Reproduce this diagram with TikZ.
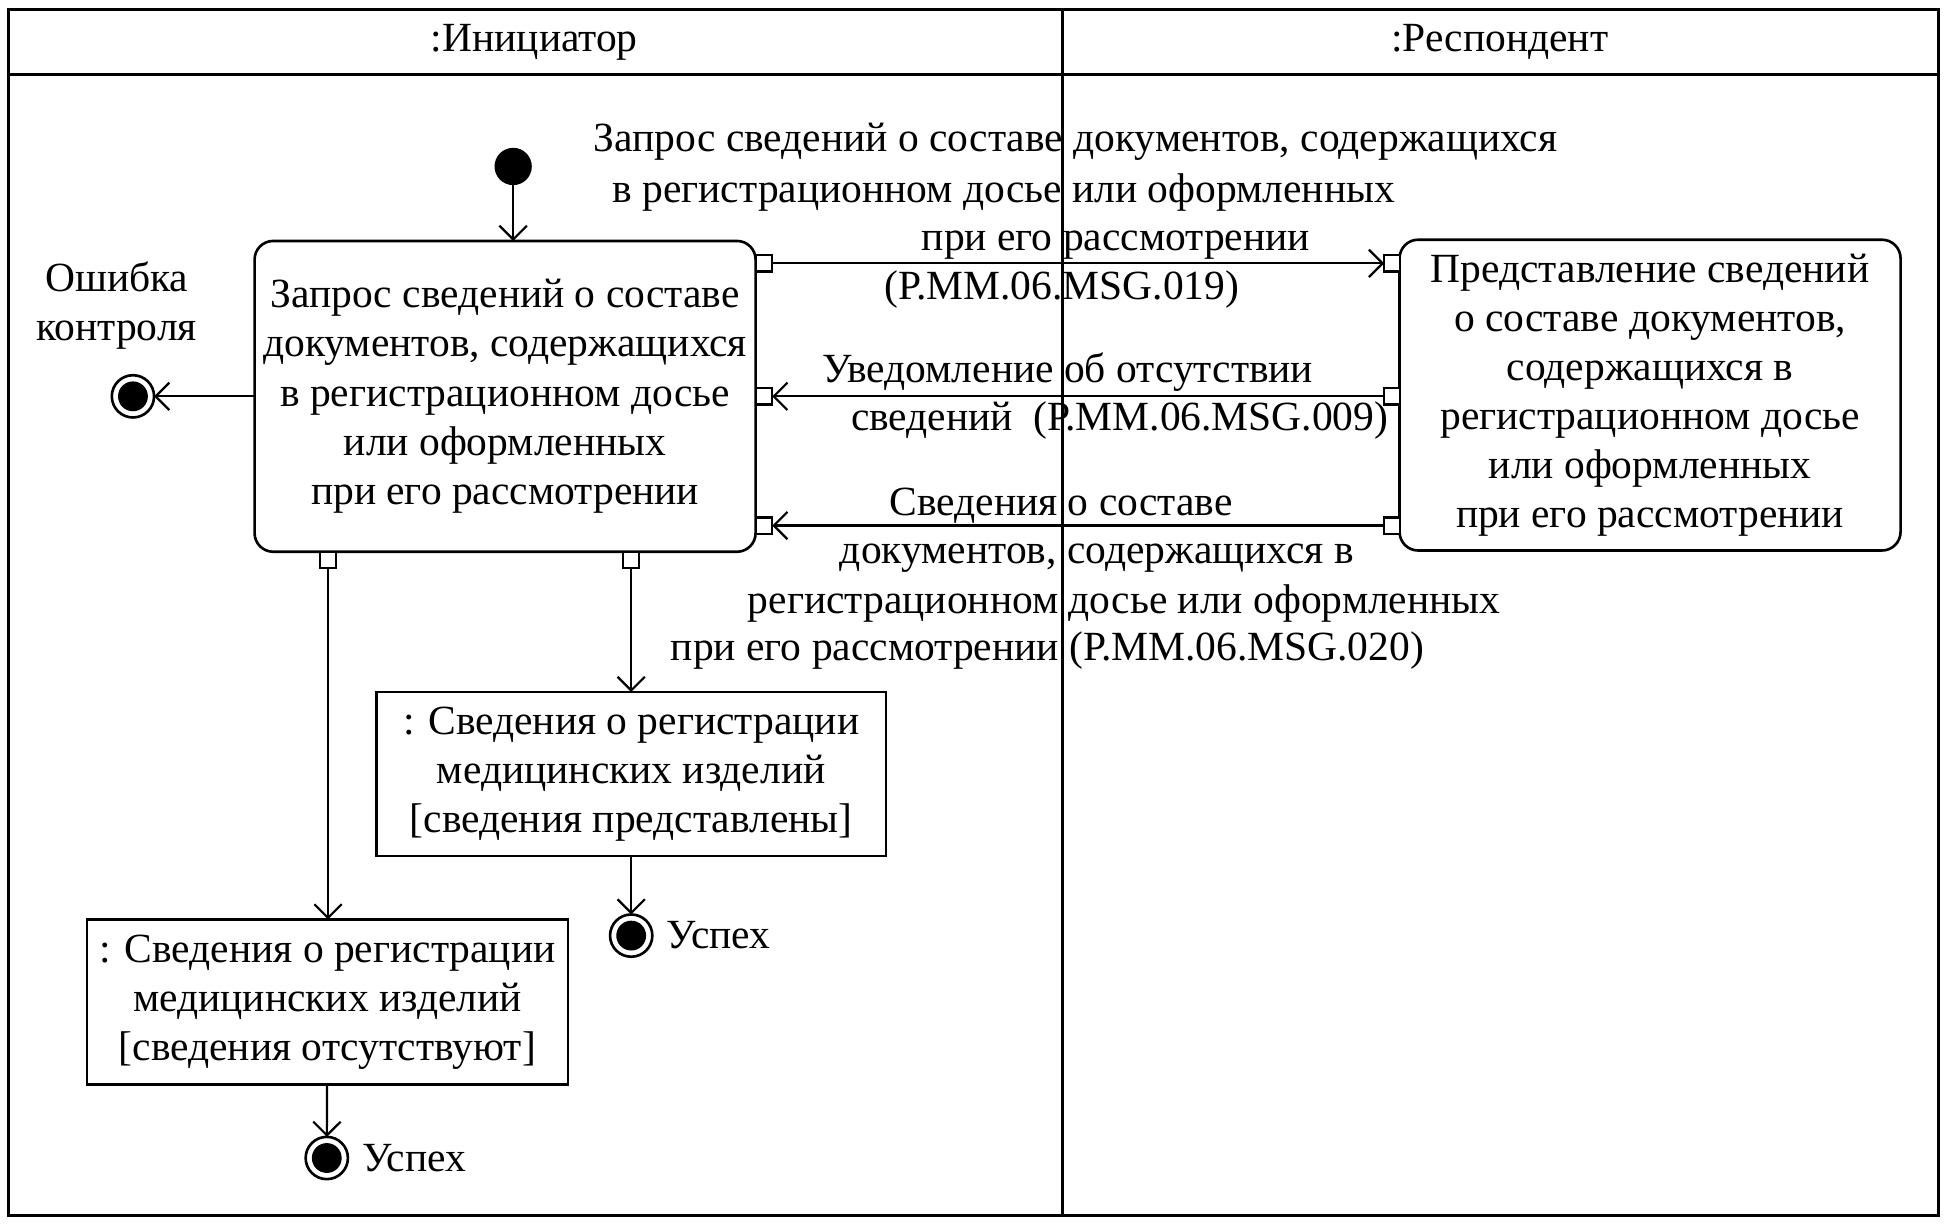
\documentclass[tikz,border=0pt]{standalone}
\usepackage{fontspec}
\setmainfont{Liberation Serif}
\usetikzlibrary{
    arrows.meta,
    calc,
    positioning
}
\tikzset{
    every picture/.style = {
        > = {Straight Barb[length = 1.1mm, width = 2.2mm]},
        line width = 0.5pt
    },
    every node/.style = {
        inner sep = 1pt,
        outer sep = 0pt,
        align = center,
        font = \fontsize{9.5pt}{11.25pt}\selectfont
    },
    action/.style = {
        draw,
        line width = 0.6pt,
        rounded corners = 0.15cm,
        minimum width = 4.03cm,
        minimum height = 2.5cm
    },
    object/.style = {
        draw,
        line width = 0.6pt,
        minimum height = 1.32cm
    },
    portbox/.style = {
        draw,
        fill = white,
        inner sep = 0pt,
        minimum size = 0.13cm
    },
    initstate/.style = {
        circle,
        fill = black,
        inner sep = 0pt,
        minimum size = 0.3cm
    },
    finalstate/.style = {
        circle,
        draw,
        line width = 0.6pt,
        inner sep = 0pt,
        minimum size = 0.34cm,
        path picture = {\fill (path picture bounding box.center) circle (0.12cm);}
    },
    msg/.style = {
        inner sep = 0pt,
        anchor = west,
        text height = 1.6ex,
        text depth = 0.4ex
    }
}

\begin{document}
\begin{tikzpicture}[
                        x = 0.01cm,
                        y = -0.01cm
                    ]
    \useasboundingbox (0,0) rectangle (1567,986);
    % swimlanes
    \draw[line width = 0.7pt] (7,8) rectangle (1560,978);
    \draw[line width = 0.6pt] (7,60) -- (1560,60);
    \draw[line width = 0.6pt] (855,8) -- (855,978);
    \node (laneInit) at (430,34) {:Инициатор};
    \node (laneResp) at (1207,34) {:Респондент};

    % actions
    \node[initstate] (start) at (413,134) {};
    \node[action] (req) at (406.5,319) {Запрос сведений о составе\\документов, содержащихся\\в регистрационном досье\\или оформленных\\при его рассмотрении};
    \node[action] (resp) at (1328,318) {Представление сведений\\о составе документов,\\содержащихся в\\регистрационном досье\\или оформленных\\при его рассмотрении};

    \node[finalstate] (err) at (107,319) {};
    \node (errLbl) at (94,246) {Ошибка\\контроля};

    % objects
    \node[object, minimum width = 4.1cm] (found) at (508,623) {: Сведения о регистрации\\медицинских изделий\\{}[сведения представлены]};
    \node[finalstate] (okFound) at (508,753) {};
    \node[right = 0.08cm of okFound] (okFoundLbl) {Успех};

    \node[object, minimum width = 3.87cm, minimum height = 1.33cm] (absent) at (263.5,806.5) {: Сведения о регистрации\\медицинских изделий\\{}[сведения отсутствуют]};
    \node[finalstate] (okAbsent) at (263,932) {};
    \node[right = 0.08cm of okAbsent] (okAbsentLbl) {Успех};

    % pins
    \node[portbox] (reqOut) at (615,212) {};
    \node[portbox] (reqIn1) at (615,319) {};
    \node[portbox] (reqIn2) at (615,423) {};
    \node[portbox] (respIn) at (1120.5,212) {};
    \node[portbox] (respOut1) at (1120.5,319) {};
    \node[portbox] (respOut2) at (1120.5,423) {};
    \node[portbox] (reqOutA) at (264,450.5) {};
    \node[portbox] (reqOutB) at (508,450.5) {};

    % messages
    \node[msg] (msgReqA) at (478,112) {Запрос сведений о составе документов, содержащихся};
    \node[msg] (msgReqB) at (493,153) {в регистрационном досье или оформленных};
    \node[msg] (msgReqC) at (742,192) {при его рассмотрении};
    \node[msg] (msgReqD) at (712,231) {(Р.ММ.06.MSG.019)};

    \node[msg] (msgNoneA) at (662,298) {Уведомление об отсутствии};
    \node[msg] (msgNoneB) at (685,337) {сведений\ \ (Р.ММ.06.MSG.009)};

    \node[msg] (msgDataA) at (716,405) {Сведения о составе};
    \node[msg] (msgDataB) at (676,444) {документов, содержащихся в};
    \node[msg] (msgDataC) at (602,484) {регистрационном досье или оформленных};
    \node[msg] (msgDataD) at (540,522) {при его рассмотрении (Р.ММ.06.MSG.020)};

    % connectors
    \path[->] (start) edge (start |- req.north);
    \path[->] (req) edge (err);
    \path[->] (reqOut) edge (respIn);
    \path[->] (respOut1) edge (reqIn1);
    \path[->] (respOut2) edge (reqIn2);
    \path[->] (reqOutB) edge (found);
    \path[->] (reqOutA) edge (reqOutA |- absent.north);
    \path[->] (found) edge (okFound);
    \path[->] (absent) edge (okAbsent);
\end{tikzpicture}
\end{document}
